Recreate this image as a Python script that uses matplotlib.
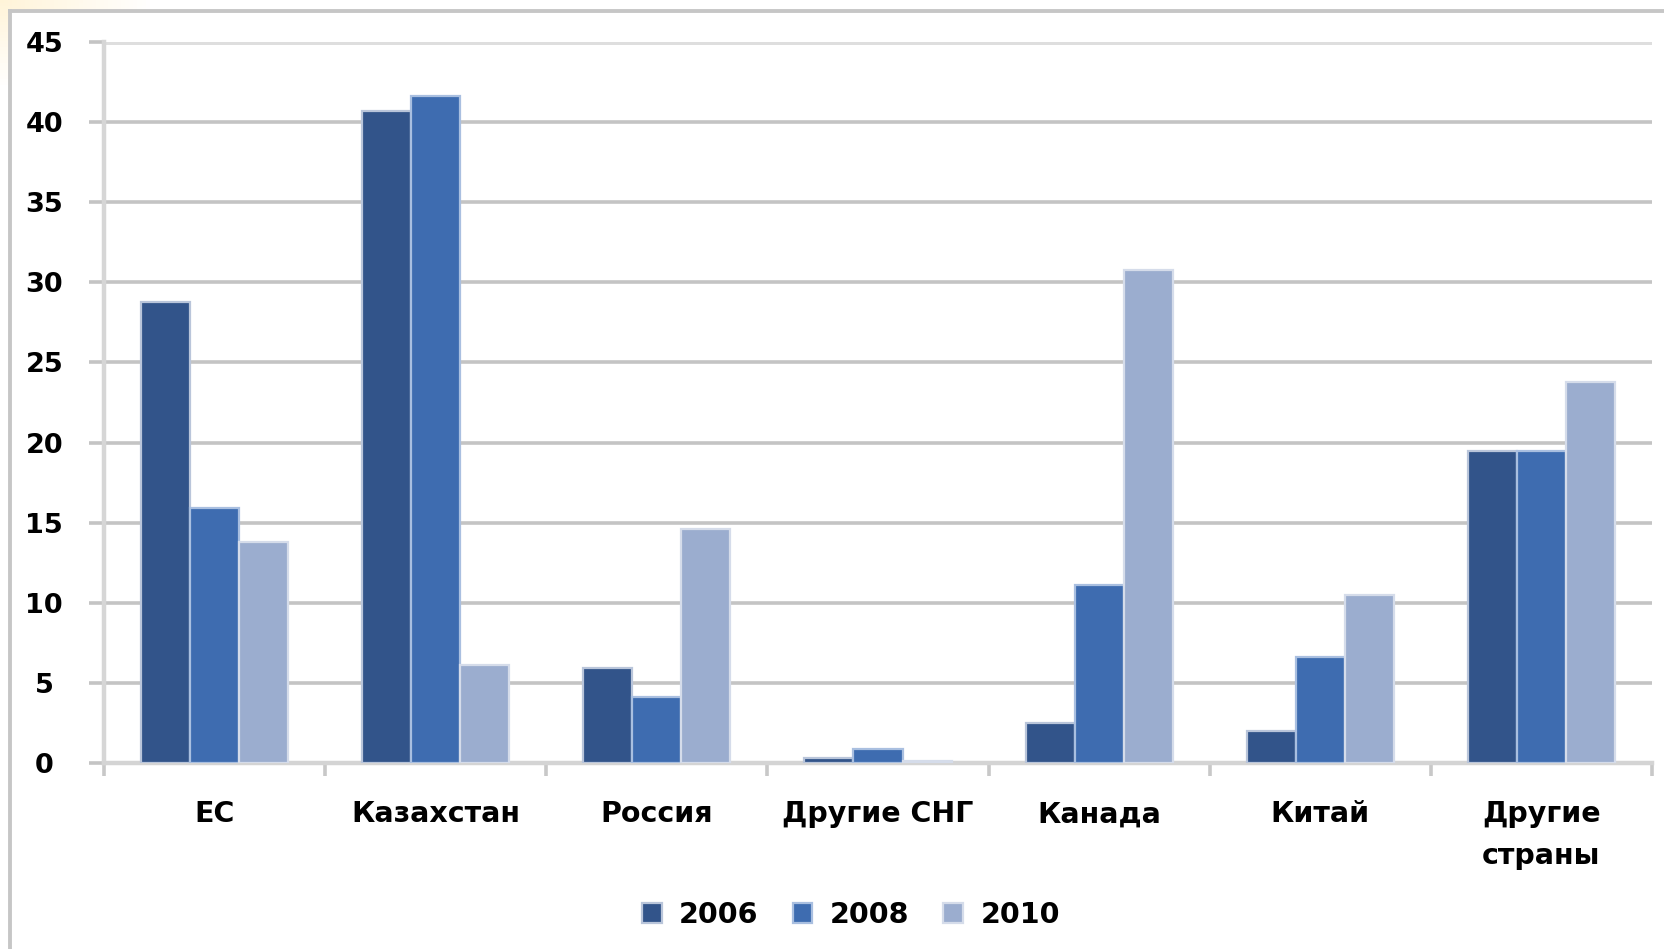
import numpy as np
import matplotlib
matplotlib.use("Agg")
import matplotlib.pyplot as plt
from matplotlib.lines import Line2D
from matplotlib.patches import Rectangle

plt.rcParams['font.family'] = ['DejaVu Sans']

categories = ["ЕС", "Казахстан", "Россия", "Другие СНГ", "Канада", "Китай", "Другие\nстраны"]
years = ["2006", "2008", "2010"]
v2006 = [28.8, 40.7, 5.9, 0.3, 2.5, 2.0, 19.5]
v2008 = [15.9, 41.6, 4.1, 0.9, 11.1, 6.6, 19.5]
v2010 = [13.8, 6.1, 14.6, 0.1, 30.8, 10.5, 23.8]
yticks = [0, 5, 10, 15, 20, 25, 30, 35, 40, 45]

colors = ["#32548A", "#3E6CB0", "#9BADCF"]
edges = ["#B9C5DA", "#A9BFE0", "#D5DCEA"]

W, H = 1665, 949
fig = plt.figure(figsize=(W / 100, H / 100), dpi=100)
fig.patch.set_facecolor("white")

# soft warm tint in the top-left corner, outside the frame
bg = fig.add_axes([0, 0, 1, 1], zorder=-10)
gx, gy = np.meshgrid(np.linspace(0, 1, 400), np.linspace(0, 1, 300))
d = np.sqrt((gx / 0.09) ** 2 + ((1 - gy) / 0.09) ** 2)
alpha = np.clip(1 - d, 0, 1) * 0.3
img = np.zeros((300, 400, 4))
img[..., 0] = 1.0
img[..., 1] = 0.86
img[..., 2] = 0.5
img[..., 3] = alpha
bg.imshow(img, extent=[0, 1, 0, 1], aspect="auto", origin="lower")
bg.add_patch(Rectangle((11 / W, 0), 1, 1 - 11 / H, color="white", zorder=5))
bg.set_xlim(0, 1)
bg.set_ylim(0, 1)
bg.axis("off")

# frame lines on the left and top
fig.add_artist(Line2D([10.5 / W, 10.5 / W], [0, 1 - 10.5 / H], color="#C6C6C6", lw=2.8))
fig.add_artist(Line2D([10.5 / W, 1], [1 - 10.5 / H, 1 - 10.5 / H], color="#C6C6C6", lw=2.8))

ax = fig.add_axes([104 / W, 1 - 763 / H, (1652 - 104) / W, (763 - 42) / H])

x = np.arange(len(categories))
w = 0.222
for i, (vals, c, ec) in enumerate(zip([v2006, v2008, v2010], colors, edges)):
    ax.bar(x + (i - 1) * w, vals, width=w, color=c, edgecolor=ec, linewidth=1.6,
           label=years[i], zorder=3)

ax.set_xlim(-0.5, len(categories) - 0.5)
ax.set_ylim(0, 45)
ax.set_yticks(yticks)
ax.set_yticklabels([str(t) for t in yticks], fontsize=19.5, fontweight="bold")
for t in ax.get_yticklabels():
    t.set_horizontalalignment("center")
ax.tick_params(axis="y", length=11, width=2.6, color="#C4C4C4", pad=32)

ax.grid(axis="y", color="#C4C4C4", lw=2.6, zorder=0)
ax.set_axisbelow(True)
ygl = ax.get_ygridlines()
ygl[-1].set_color("#DEDEDE")
ygl[-1].set_linewidth(3.6)

# category boundaries as x ticks, labels at centres
ax.set_xticks(np.arange(-0.5, len(categories), 1.0))
ax.set_xticklabels([])
ax.set_xticks(x, minor=True)
ax.set_xticklabels(categories, minor=True, fontsize=20.5, fontweight="bold", linespacing=1.6)
ax.tick_params(axis="x", which="major", length=9, width=2.6, color="#C8C8C8")
ax.tick_params(axis="x", which="minor", length=0, pad=27)
for lbl in ax.get_xticklabels(minor=True):
    lbl.set_verticalalignment("top")

for s in ["top", "right"]:
    ax.spines[s].set_visible(False)
ax.spines["left"].set_color("#D6D6D6")
ax.spines["left"].set_linewidth(3.2)
ax.spines["bottom"].set_color("#D4D4D4")
ax.spines["bottom"].set_linewidth(3.2)

fig.legend(loc="center", bbox_to_anchor=(0.511, 1 - 915 / H), ncol=3, frameon=False,
           prop={"size": 20.5, "weight": "bold"}, handlelength=0.7, handleheight=0.7,
           handletextpad=0.6, columnspacing=1.2)

fig.savefig("out.png", dpi=100)
